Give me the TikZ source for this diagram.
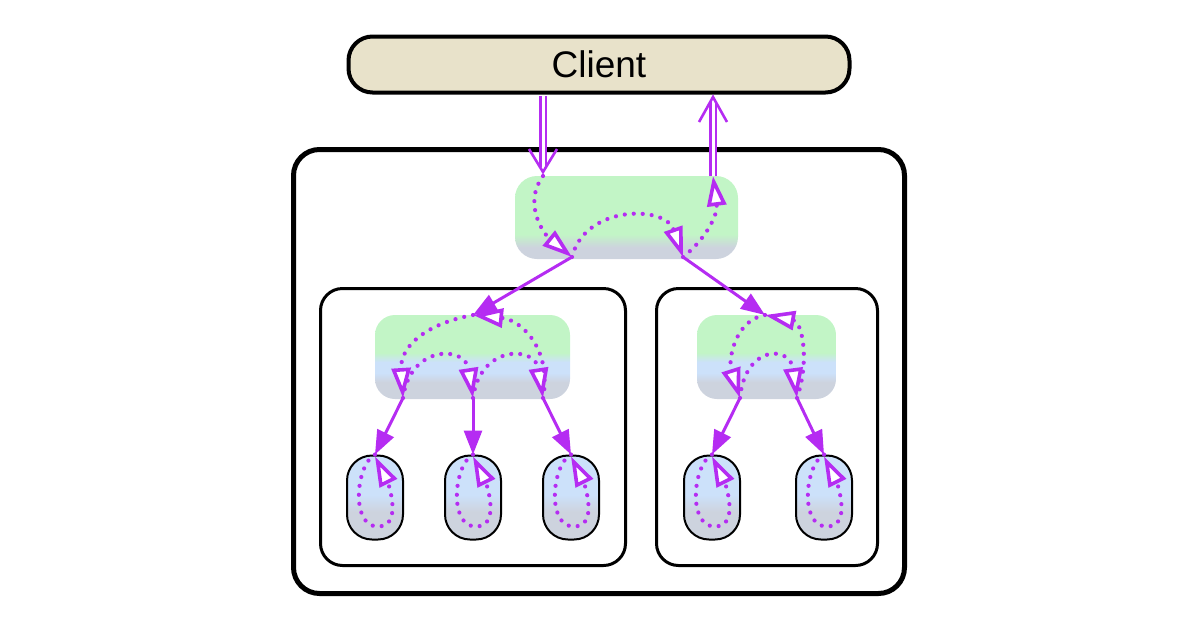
\documentclass[tikz,border=0pt]{standalone}
\usepackage{fontspec}
\setmainfont{Liberation Sans}
\usetikzlibrary{arrows.meta,calc}

\definecolor{cbeige}{HTML}{E8E2CA}
\definecolor{cgreen}{HTML}{C2F5C6}
\definecolor{cblue}{HTML}{CCE1FA}
\definecolor{cgray}{HTML}{CDD3DE}
\definecolor{cpurp}{HTML}{B52CF2}

\pgfdeclareverticalshading{topshade}{100bp}{color(0bp)=(cgray); color(32bp)=(cgray); color(40bp)=(cgreen); color(100bp)=(cgreen)}
\pgfdeclareverticalshading{midshade}{100bp}{color(0bp)=(cgray); color(35bp)=(cgray); color(40.5bp)=(cblue); color(47bp)=(cblue); color(52.5bp)=(cgreen); color(100bp)=(cgreen)}
\pgfdeclareverticalshading{leafshade}{100bp}{color(0bp)=(cgray); color(41.5bp)=(cgray); color(51.5bp)=(cblue); color(100bp)=(cblue)}

\tikzset{
  frame/.style={draw=black, inner sep=0pt, rectangle},
  procbox/.style={inner sep=0pt, rectangle, draw=none, rounded corners=#1},
  leafbox/.style={draw=black, line width=2pt, inner sep=0pt, rounded corners=25pt,
    minimum width=56pt, minimum height=84pt, shading=leafshade},
  flowdot/.style={cpurp, line width=4.2pt, line cap=round, dash pattern=on 0pt off 9pt,
    -{Triangle[fill=white, length=30pt, width=19pt, line width=3.6pt]}},
  flowline/.style={cpurp, line width=3pt, -{Triangle[length=24pt, width=18pt]}},
  dblshaft/.style={cpurp, line width=2.3pt, double=white, double distance=3pt},
  vhead/.style={cpurp, line width=2.6pt, line join=miter}
}

\newcommand\mkloop[1]{%
  \draw[flowdot] (#1.north) .. controls +(-19,10) and +(-28,0) .. ($(#1.north)+(3,72)$)
     .. controls +(26,0) and +(12,24) .. ($(#1.north)+(0,2)$);}

\begin{document}
\begin{tikzpicture}[x=1pt,y=-1pt]
\useasboundingbox (0,0) rectangle (1200,630);

% containers
\node[frame, line width=4pt, rounded corners=24pt, fill=cbeige, minimum width=501pt, minimum height=56pt,
  font=\fontsize{37}{44}\selectfont] (client) at (599,64.5) {Client};
\node[frame, line width=5pt, rounded corners=26pt, minimum width=611pt, minimum height=444pt] (outer) at (599,371.5) {};
\node[frame, line width=3pt, rounded corners=22pt, minimum width=305pt, minimum height=277pt] (contL) at (473,427) {};
\node[frame, line width=3pt, rounded corners=22pt, minimum width=221pt, minimum height=277pt] (contR) at (767,427) {};

% process boxes
\node[procbox=22pt, minimum width=223pt, minimum height=83pt, shading=topshade] (top) at (626.5,217.5) {};
\node[procbox=20pt, minimum width=195pt, minimum height=84pt, shading=midshade] (midL) at (472.5,357) {};
\node[procbox=20pt, minimum width=139pt, minimum height=84pt, shading=midshade] (midR) at (766.5,357) {};

% leaves
\node[leafbox] (l1) at (375,497.5) {};
\node[leafbox] (l2) at (473,497.5) {};
\node[leafbox] (l3) at (571,497.5) {};
\node[leafbox] (l4) at (712,497.5) {};
\node[leafbox] (l5) at (824,497.5) {};

% ports
\coordinate (cOut) at (543,96);
\coordinate (cIn)  at (713,97);
\coordinate (tIn)  at (543,176);
\coordinate (tOut) at (713,176);
\coordinate (tA)   at (572,257);
\coordinate (tB)   at (683,257);
\coordinate (mLin) at (473,315);
\coordinate (mLa)  at (403,398);
\coordinate (mLb)  at (473,398);
\coordinate (mLc)  at (543,398);
\coordinate (mRin) at (765,315);
\coordinate (mRa)  at (740,398);
\coordinate (mRb)  at (797,398);

% double arrows client <-> top
\draw[dblshaft] (cOut) -- ($(tIn)+(0,-9)$);
\draw[vhead] ($(tIn)+(-14,-27)$) -- ($(tIn)+(0,-4)$) -- ($(tIn)+(14,-27)$);
\draw[dblshaft] (tOut) -- ($(cIn)+(0,4)$);
\draw[vhead] ($(cIn)+(-14,25)$) -- (cIn) -- ($(cIn)+(14,25)$);

% dotted flows in top
\draw[flowdot] (tIn) .. controls (522,205) and (545,235) .. (tA);
\draw[flowdot] (tA) .. controls (585,205) and (665,205) .. (tB);
\draw[flowdot] (tB) .. controls (705,240) and (718,215) .. (tOut);

% solid arrows top -> mids
\draw[flowline] (tA) -- (mLin);
\draw[flowline] (tB) -- (mRin);

% dotted flows in midL
\draw[flowdot] (mLin) .. controls (420,325) and (400,350) .. (mLa);
\draw[flowdot] (mLa) .. controls (410,345) and (465,345) .. (mLb);
\draw[flowdot] (mLb) .. controls (480,345) and (535,345) .. (mLc);
\draw[flowdot] (mLc) .. controls (552,350) and (522,320) .. (mLin);

% dotted flows in midR
\draw[flowdot] (mRin) .. controls (735,320) and (728,360) .. (mRa);
\draw[flowdot] (mRa) .. controls (745,345) and (790,345) .. (mRb);
\draw[flowdot] (mRb) .. controls (810,360) and (802,322) .. (mRin);

% solid arrows mids -> leaves
\draw[flowline] (mLa) -- (l1.north);
\draw[flowline] (mLb) -- (l2.north);
\draw[flowline] (mLc) -- (l3.north);
\draw[flowline] (mRa) -- (l4.north);
\draw[flowline] (mRb) -- (l5.north);

% leaf loops
\mkloop{l1}
\mkloop{l2}
\mkloop{l3}
\mkloop{l4}
\mkloop{l5}
\end{tikzpicture}
\end{document}
